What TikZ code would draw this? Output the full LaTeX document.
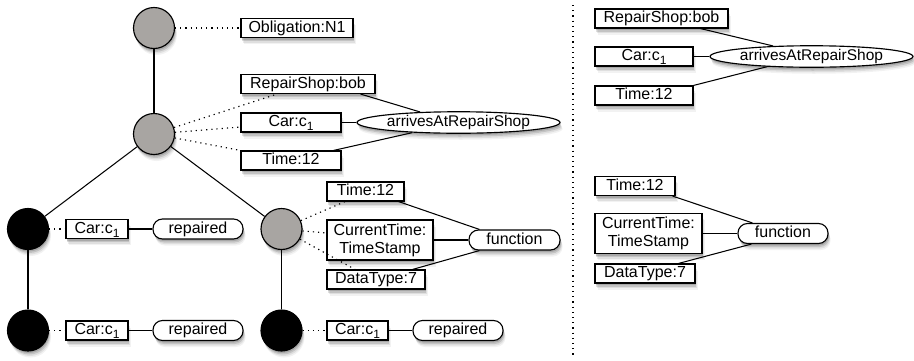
\documentclass[tikz,border=0pt]{standalone}
\usepackage{fontspec}
\setmainfont{Liberation Sans}
\usetikzlibrary{shapes.geometric,shadows}
\newcommand\lowsub[1]{\raisebox{-4pt}{\fontsize{12}{12}\selectfont #1}}
\definecolor{nodegray}{RGB}{168,165,162}
\tikzset{
  softshadow/.style={
    drop shadow={shadow xshift=0.8pt,shadow yshift=-2pt,opacity=0.14,fill=black},
    drop shadow={shadow xshift=1.4pt,shadow yshift=-3.5pt,opacity=0.12,fill=black},
    drop shadow={shadow xshift=2pt,shadow yshift=-5pt,opacity=0.08,fill=black},
    drop shadow={shadow xshift=2.5pt,shadow yshift=-6.5pt,opacity=0.05,fill=black}},
  basebox/.style={draw, line width=1.15pt, fill=white, inner sep=0pt,
    font=\fontsize{16}{18}\selectfont, softshadow},
  onebox/.style={basebox, minimum height=19pt, text height=11.8pt, text depth=3.4pt},
  twobox/.style={basebox, minimum height=40pt, align=center},
  oval/.style={basebox, rounded corners=9.5pt, minimum height=20pt,
    text height=11.8pt, text depth=3.4pt},
  ellnode/.style={basebox, ellipse, minimum width=203pt, minimum height=21pt,
    text height=11.8pt, text depth=3.4pt, font=\fontsize{15.5}{18}\selectfont},
  circnode/.style={circle, draw, line width=1.15pt, minimum size=41pt, inner sep=0pt, softshadow},
  gcirc/.style={circnode, fill=nodegray},
  bcirc/.style={circnode, fill=black},
  conn/.style={line width=1.05pt},
  dotline/.style={line width=1.15pt, dash pattern=on 1.2pt off 4pt},
}
\begin{document}
\begin{tikzpicture}[x=1pt,y=-1pt]
\useasboundingbox (0,0) rectangle (914,360);

% tree circles
\node[gcirc] (c1) at (154,28) {};
\node[gcirc] (c2) at (154,134) {};
\node[bcirc] (c3) at (28,229) {};
\node[gcirc] (c4) at (281.5,229) {};
\node[bcirc] (c5) at (28,330.5) {};
\node[bcirc] (c6) at (281.5,330.5) {};

% left panel boxes
\node[onebox, minimum width=112pt] (ob) at (297,28) {Obligation:N1};
\node[onebox, minimum width=134pt] (rs1) at (308,84) {RepairShop:bob};
\node[onebox, minimum width=100pt] (car1) at (291,122.5) {Car:c\lowsub{1}};
\node[onebox, minimum width=100pt] (tm1) at (291,160.5) {Time:12};
\node[ellnode] (arr1) at (458.5,122.5) {arrivesAtRepairShop};

\node[onebox, minimum width=62pt] (car2) at (97,229) {Car:c\lowsub{1}};
\node[oval, minimum width=90pt] (rep1) at (198,229) {repaired};
\node[onebox, minimum width=62pt] (car3) at (97,330.5) {Car:c\lowsub{1}};
\node[oval, minimum width=90pt] (rep2) at (198,330.5) {repaired};

\node[onebox, minimum width=77pt] (tm2) at (365.5,191.5) {Time:12};
\node[twobox, minimum width=106pt] (ct1) at (380,240) {CurrentTime:\\TimeStamp};
\node[onebox, minimum width=98pt] (dt1) at (376,279.5) {DataType:7};
\node[oval, minimum width=91pt] (fn1) at (514.5,240) {function};
\node[onebox, minimum width=61pt] (car4) at (357.5,330.5) {Car:c\lowsub{1}};
\node[oval, minimum width=90pt] (rep3) at (458,330.5) {repaired};

% right panel boxes
\node[onebox, minimum width=133pt] (rs2) at (661.5,18.5) {RepairShop:bob};
\node[onebox, minimum width=98pt] (car5) at (644,56.5) {Car:c\lowsub{1}};
\node[onebox, minimum width=98pt] (tm3) at (644,95.5) {Time:12};
\node[ellnode] (arr2) at (811.5,56.5) {arrivesAtRepairShop};
\node[onebox, minimum width=80pt] (tm4) at (635,186) {Time:12};
\node[twobox, minimum width=107pt] (ct2) at (648.5,233.5) {CurrentTime:\\TimeStamp};
\node[onebox, minimum width=100pt] (dt2) at (645,273.5) {DataType:7};
\node[oval, minimum width=90pt] (fn2) at (783,233.5) {function};

% separator
\coordinate (vtop) at (573,5);
\coordinate (vbot) at (573,355);
\draw[dotline] (vtop) -- (vbot);

% tree edges
\draw[conn] (c1) -- (c2);
\draw[conn] (c2) -- (c3);
\draw[conn] (c2) -- (c4);
\draw[conn] (c3) -- (c5);
\draw[conn] (c4) -- (c6);

% dotted links
\draw[dotline] (c1) -- (ob);
\draw[dotline] (c2) -- ([xshift=-31pt]rs1.south);
\draw[dotline] (c2) -- ([yshift=-4.5pt]car1.west);
\draw[dotline] (c2) -- (tm1.north west);
\draw[dotline] (c3) -- (car2);
\draw[dotline] (c5) -- (car3);
\draw[dotline] (c4) -- ([xshift=-20.5pt]tm2.south);
\draw[dotline] (c4) -- ([yshift=7pt]ct1.west);
\draw[dotline] (c4) -- ([xshift=-21pt]dt1.north);
\draw[dotline] (c6) -- (car4);

% argument links, left
\draw[conn] ([xshift=-15pt]rs1.south east) -- ([xshift=-38.5pt,yshift=-0.75pt]arr1.north);
\draw[conn] (car1.east) -- (arr1.west);
\draw[conn] ([xshift=-8pt]tm1.north east) -- ([xshift=-46.5pt,yshift=1.1pt]arr1.south);
\draw[conn] (car2) -- (rep1);
\draw[conn] (car3) -- (rep2);
\draw[conn] (car4) -- (rep3);
\draw[conn] ([xshift=-6pt]tm2.south east) -- ([xshift=11pt]fn1.north west);
\draw[conn] (ct1.east) -- (fn1.west);
\draw[conn] ([xshift=-13pt]dt1.north east) -- ([xshift=11pt]fn1.south west);

% argument links, right
\draw[conn] ([xshift=-28pt]rs2.south east) -- ([xshift=-38.5pt,yshift=-0.75pt]arr2.north);
\draw[conn] (car5.east) -- (arr2.west);
\draw[conn] (tm3.north east) -- ([xshift=-44.5pt,yshift=1.1pt]arr2.south);
\draw[conn] ([xshift=-3pt]tm4.south east) -- ([xshift=15pt]fn2.north west);
\draw[conn] (ct2.east) -- (fn2.west);
\draw[conn] ([xshift=-17pt]dt2.north east) -- ([xshift=14pt]fn2.south west);
\end{tikzpicture}
\end{document}
